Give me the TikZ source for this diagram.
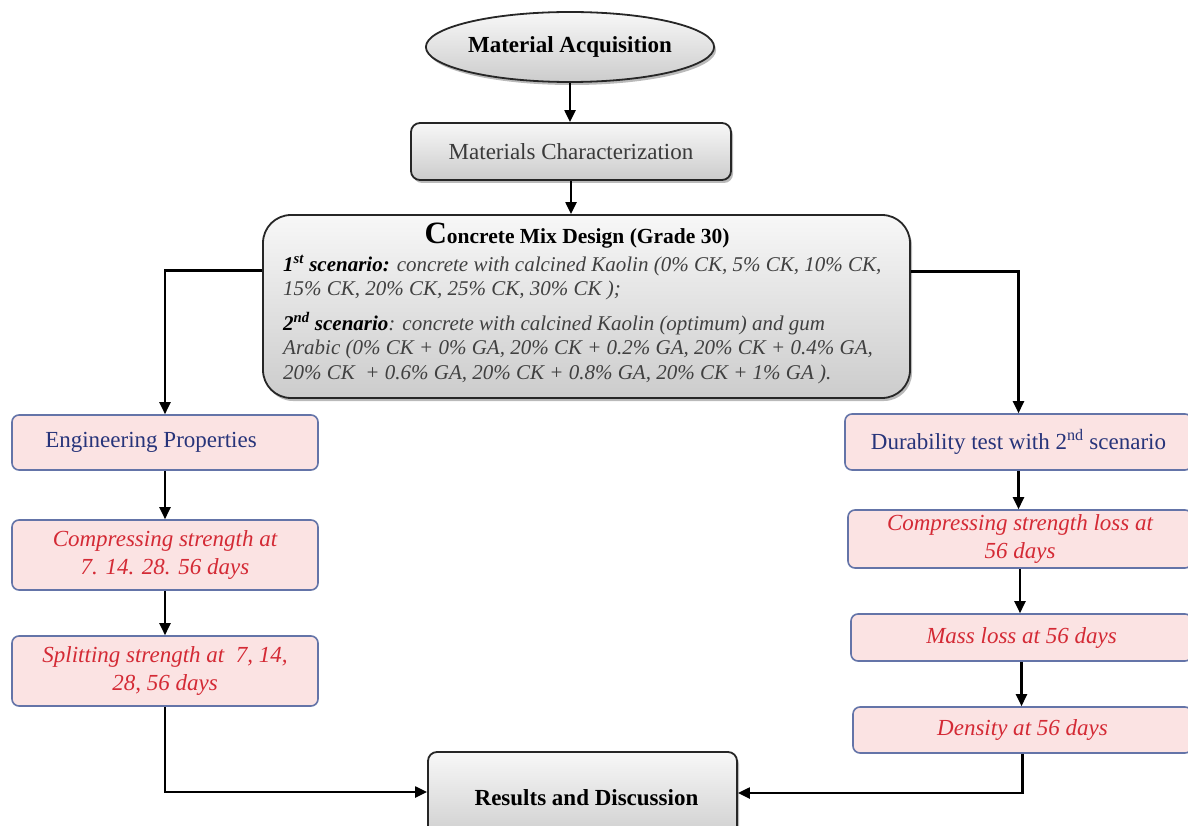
\documentclass[tikz,border=0pt]{standalone}
\usepackage{fontspec}
\setmainfont{Liberation Serif}
\usetikzlibrary{shapes.geometric,shadows,arrows.meta}
\definecolor{pinkfill}{HTML}{FBE3E3}
\definecolor{blueedge}{HTML}{6474A8}
\definecolor{bluetext}{HTML}{27347A}
\definecolor{redtext}{HTML}{D42A35}
\definecolor{graytext}{HTML}{3A3A3A}
\definecolor{mixtext}{HTML}{404040}
\begin{document}
\begin{tikzpicture}[x=1pt,y=-1pt,
  shade/.style={top color=gray!6, bottom color=gray!40},
  shadowed/.style={drop shadow={shadow xshift=2pt,shadow yshift=-3pt,opacity=0.45,fill=black!60}},
  graybox/.style={draw=black!85, line width=1.8pt, rounded corners=9pt, shade, shadowed, inner sep=0pt},
  pinkbox/.style={draw=blueedge, line width=1.6pt, rounded corners=7pt, fill=pinkfill, inner sep=0pt, align=center},
  redtxt/.style={text=redtext, font=\fontsize{23}{28}\selectfont\itshape},
  bluetxt/.style={text=bluetext, font=\fontsize{23}{28}\selectfont},
  arr/.style={-{Triangle[length=12pt,width=11pt]}, line width=2.2pt},
  conn/.style={line width=2.2pt}]
\useasboundingbox (0,0) rectangle (1188,826);

% top
\node[ellipse, draw=black!85, line width=1.8pt, shade, shadowed, minimum width=284pt, minimum height=70pt, inner sep=0pt,
      font=\fontsize{23}{28}\selectfont\bfseries] (acq) at (570,47) {Material Acquisition};
\node[graybox, minimum width=320pt, minimum height=57pt, text=graytext, font=\fontsize{23}{28}\selectfont] (char) at (571,151.5) {Materials Characterization};

% mix design box
\node[graybox, rounded corners=28pt, minimum width=647pt, minimum height=183pt] (mix) at (586.5,306.5) {};
\node[font=\fontsize{21.5}{24}\selectfont\bfseries, inner sep=0pt] (mixtitle) at (577,236) {{\fontsize{31}{32}\selectfont C}oncrete Mix Design (Grade 30)};
\node[anchor=north west, align=left, inner sep=0pt, text=mixtext, font=\fontsize{21}{24.5}\selectfont\itshape] (mixbody) at (283,255)
 {\textcolor{black}{\bfseries 1\textsuperscript{st} scenario:} concrete with calcined Kaolin (0\% CK, 5\% CK, 10\% CK,\\
  15\% CK, 20\% CK, 25\% CK, 30\% CK );\\[10pt]
  \textcolor{black}{\bfseries 2\textsuperscript{nd} scenario}: concrete with calcined Kaolin (optimum) and gum\\
  Arabic (0\% CK + 0\% GA, 20\% CK + 0.2\% GA, 20\% CK + 0.4\% GA,\\
  20\% CK \ + 0.6\% GA, 20\% CK + 0.8\% GA, 20\% CK + 1\% GA ).};

% left column
\node[pinkbox, bluetxt, minimum width=306pt, minimum height=55pt] (eng) at (165,442.5) {Engineering Properties\hspace*{28pt}};
\node[pinkbox, redtxt, minimum width=306pt, minimum height=70pt] (comp) at (165,555) {Compressing strength at\\7. 14. 28. 56 days};
\node[pinkbox, redtxt, minimum width=306pt, minimum height=70pt] (split) at (165,671) {Splitting strength at \ 7, 14,\\28, 56 days};

% right column
\node[pinkbox, bluetxt, minimum width=347pt, minimum height=56pt] (dur) at (1018.5,442) {Durability test with 2\textsuperscript{nd} scenario};
\node[pinkbox, redtxt, minimum width=344pt, minimum height=58pt] (closs) at (1020,539) {Compressing strength loss at\\56 days};
\node[pinkbox, redtxt, minimum width=341pt, minimum height=47pt] (mass) at (1021.5,637.5) {Mass loss at 56 days};
\node[pinkbox, redtxt, minimum width=339pt, minimum height=46pt] (dens) at (1022.5,730) {Density at 56 days};

% results
\node[graybox, minimum width=309pt, minimum height=92pt, font=\fontsize{23}{28}\selectfont\bfseries] (res) at (582.5,798) {\hspace*{8pt}Results and Discussion};

% connectors
\draw[arr] (acq.south) -- (acq.south |- char.north);
\draw[arr] (char.south) -- (char.south |- mix.north);
\draw[arr] ([yshift=36pt]mix.west) -| (eng.north);
\draw[arr] ([yshift=35pt]mix.east) -| (dur.north);
\draw[arr] (eng.south) -- (comp.north);
\draw[arr] (comp.south) -- (split.north);
\draw[arr] (split.south) |- ([yshift=6pt]res.west);
\draw[arr] (dur.south) -- (dur.south |- closs.north);
\draw[arr] (closs.south) -- (closs.south |- mass.north);
\draw[arr] (mass.south) -- (mass.south |- dens.north);
\draw[arr] (dens.south) |- ([yshift=5pt]res.east);
\end{tikzpicture}
\end{document}
